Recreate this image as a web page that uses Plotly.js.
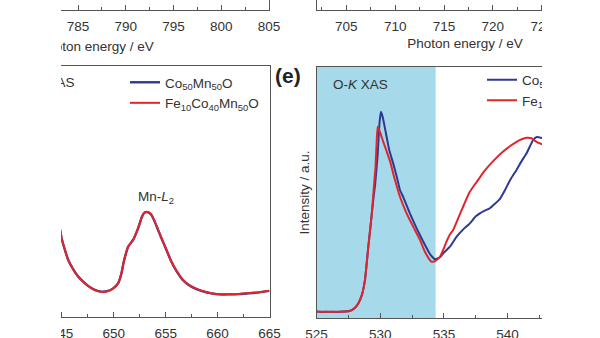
<!DOCTYPE html>
<html>
<head>
<meta charset="utf-8">
<script src="https://cdn.plot.ly/plotly-3.0.1.min.js"></script>
<style>
html,body{margin:0;padding:0;width:600px;height:338px;overflow:hidden;background:#fff;}
#clip{position:absolute;left:61px;top:0;width:481px;height:338px;overflow:hidden;}
#plot{position:absolute;left:-161px;top:-100px;width:800px;height:538px;}
</style>
</head>
<body>
<div id="clip"><div id="plot"></div></div>
<script>
// ---- Mn-L XAS panel (bottom-left) ----
const mnBlueX = [644.6,644.97,645.29,645.61,646.09,646.57,647.05,647.53,648.17,648.82,649.45,649.93,650.41,650.74,650.96,651.22,651.38,651.86,652.34,652.72,652.98,653.30,653.63,653.94,654.26,654.59,655.07,655.55,656.03,656.66,657.47,658.43,659.39,660.2,660.99,662.0,662.91,664.0,665.0];
const mnBlueY = [0.400,0.314,0.267,0.227,0.190,0.161,0.141,0.124,0.108,0.101,0.104,0.114,0.134,0.174,0.220,0.260,0.280,0.307,0.353,0.400,0.416,0.417,0.406,0.380,0.347,0.314,0.267,0.220,0.184,0.147,0.121,0.104,0.094,0.090,0.090,0.091,0.094,0.098,0.104];
const mnRedX = [644.6,644.97,645.29,645.61,646.09,646.57,647.05,647.53,648.17,648.82,649.45,649.93,650.41,650.74,650.96,651.22,651.38,651.86,652.34,652.72,652.98,653.30,653.63,653.94,654.26,654.59,655.07,655.55,656.03,656.66,657.47,658.43,659.39,660.2,660.99,662.0,662.91,664.0,665.0];
const mnRedY = [0.402,0.316,0.268,0.228,0.190,0.160,0.140,0.123,0.107,0.100,0.103,0.113,0.134,0.175,0.221,0.261,0.281,0.308,0.354,0.401,0.417,0.418,0.407,0.381,0.348,0.315,0.268,0.221,0.185,0.148,0.122,0.105,0.095,0.091,0.091,0.092,0.095,0.099,0.105];

// ---- O-K XAS panel (e) ----
const oBlueX = [525.0,525.5,526.0,526.5,527.0,527.6,528.0,528.3,528.55,528.8,529.06,529.33,529.5,529.6,529.8,529.95,530.06,530.2,530.45,530.71,531.02,531.34,531.55,531.8,532.33,532.86,533.38,533.9,534.3,534.69,534.95,535.47,536.0,536.5,537.04,537.5,537.82,538.2,538.6,539.0,539.4,539.8,540.2,540.7,541.1,541.5,542.0,542.3,542.8,543.3];
const oBlueY = [0.026,0.024,0.025,0.024,0.026,0.028,0.040,0.060,0.090,0.150,0.280,0.410,0.490,0.530,0.650,0.780,0.822,0.800,0.736,0.669,0.616,0.555,0.510,0.483,0.417,0.357,0.304,0.255,0.234,0.242,0.258,0.284,0.324,0.352,0.377,0.405,0.417,0.428,0.437,0.455,0.475,0.510,0.550,0.590,0.625,0.657,0.709,0.721,0.716,0.712];
const oRedX = [525.0,525.5,526.0,526.5,527.0,527.6,528.0,528.3,528.55,528.8,529.06,529.33,529.5,529.63,529.72,529.8,529.98,530.24,530.5,530.8,531.05,531.3,531.55,532.07,532.59,533.12,533.51,533.9,534.04,534.3,534.69,534.95,535.2,535.47,535.73,536.1,536.51,537.0,537.3,537.69,538.1,538.47,539.0,539.65,540.2,540.7,541.1,541.49,541.88,542.27,542.8,543.3];
const oRedY = [0.025,0.025,0.024,0.025,0.025,0.028,0.040,0.060,0.090,0.150,0.280,0.410,0.520,0.600,0.700,0.762,0.742,0.702,0.665,0.620,0.570,0.525,0.483,0.417,0.364,0.311,0.264,0.231,0.224,0.227,0.244,0.272,0.304,0.333,0.351,0.395,0.444,0.500,0.523,0.550,0.580,0.603,0.632,0.663,0.685,0.702,0.712,0.718,0.716,0.702,0.690,0.680];

const shadeRange = [525, 534.35];
const seriesNames = ['Co<sub>50</sub>Mn<sub>50</sub>O', 'Fe<sub>10</sub>Co<sub>40</sub>Mn<sub>50</sub>O'];
const blue = '#2c3a92', red = '#e1262b';
const FONT = 'Liberation Sans, Arial, sans-serif';
const TXT = '#333333';
const AX = '#555555';

const traces = [
  {x: mnBlueX, y: mnBlueY, xaxis:'x', yaxis:'y', type:'scatter', mode:'lines', name: seriesNames[0], legend:'legend',
   line:{color: blue, width: 2.4, shape:'spline', smoothing:0.5}},
  {x: mnRedX, y: mnRedY, xaxis:'x', yaxis:'y', type:'scatter', mode:'lines', name: seriesNames[1], legend:'legend',
   line:{color: red, width: 2, shape:'spline', smoothing:0.5}},
  {x: oBlueX, y: oBlueY, xaxis:'x2', yaxis:'y2', type:'scatter', mode:'lines', name: seriesNames[0], legend:'legend2',
   line:{color: blue, width: 2, shape:'spline', smoothing:0.4}},
  {x: oRedX, y: oRedY, xaxis:'x2', yaxis:'y2', type:'scatter', mode:'lines', name: seriesNames[1], legend:'legend2',
   line:{color: red, width: 2, shape:'spline', smoothing:0.4}},
  // upper panels: only their energy axes are visible in this view
  {x: [], y: [], xaxis:'x3', yaxis:'y3', type:'scatter', mode:'lines', showlegend:false},
  {x: [], y: [], xaxis:'x4', yaxis:'y4', type:'scatter', mode:'lines', showlegend:false}
];

function xax(domain, range, anchor, tick0, standoff) {
  return {domain: domain, range: range, anchor: anchor, showline:true, mirror:true, linecolor:AX, linewidth:1,
    ticks:'inside', ticklen:5, tickcolor:AX, tickwidth:1, dtick:5, tick0:tick0, ticklabelstandoff:4,
    minor:{dtick:2.5, ticks:'inside', ticklen:3, tickcolor:AX, tickwidth:1, showgrid:false},
    showgrid:false, zeroline:false, tickfont:{family:FONT, size:13.5, color:TXT},
    title:{text:'Photon energy / eV', standoff: standoff, font:{family:FONT, size:13.5, color:TXT}}};
}
function yax(domain, anchor, titleText) {
  return {domain: domain, range:[0,1], anchor: anchor, showline:true, mirror:true, linecolor:AX, linewidth:1,
    ticks:'', showticklabels:false, showgrid:false, zeroline:false,
    title:{text: titleText, standoff: 2, font:{family:FONT, size:13.5, color:TXT}}};
}

const layout = {
  width: 800, height: 538,
  margin:{l:0, r:0, t:0, b:0},
  paper_bgcolor:'#ffffff', plot_bgcolor:'rgba(0,0,0,0)',
  font:{family:FONT, size:13.5, color:TXT},
  xaxis: xax([0.1375, 0.46188], [640, 665], 'y', 640, 8),
  yaxis: yax([0.22491, 0.69145], 'x', 'Intensity / a.u.'),
  xaxis2: xax([0.52063, 0.91875], [525, 550], 'y2', 525, 8),
  yaxis2: yax([0.22305, 0.68959], 'x2', 'Intensity / a.u.'),
  xaxis3: xax([0.02875, 0.46125], [768.77, 805], 'y3', 770, 8),
  yaxis3: yax([0.79554, 0.98141], 'x3', ''),
  xaxis4: xax([0.52125, 0.89125], [702, 732.3], 'y4', 700, 5),
  yaxis4: yax([0.79554, 0.98141], 'x4', ''),
  legend:{x:0.28125, y:0.68960, xanchor:'left', yanchor:'top', bgcolor:'rgba(0,0,0,0)',
    font:{family:FONT, size:13.5, color:TXT}},
  legend2:{x:0.7275, y:0.69424, xanchor:'left', yanchor:'top', bgcolor:'rgba(0,0,0,0)',
    font:{family:FONT, size:13.5, color:TXT}},
  shapes:[
    {type:'rect', xref:'x2', yref:'y2 domain', x0:shadeRange[0], x1:shadeRange[1], y0:0, y1:1,
     fillcolor:'#a6d9e9', line:{width:0}, layer:'below'}
  ],
  annotations:[
    {text:'<b>(e)</b>', xref:'paper', yref:'paper', x:0.46625, y:0.67472, xanchor:'left', yanchor:'middle',
     showarrow:false, font:{family:FONT, size:21, color:'#222'}},
    {text:'O-<i>K</i> XAS', xref:'paper', yref:'paper', x:0.53875, y:0.65799, xanchor:'left', yanchor:'middle',
     showarrow:false, font:{family:FONT, size:13.5, color:TXT}},
    {text:'Mn-<i>L</i> XAS', xref:'paper', yref:'paper', x:0.22125, y:0.66171, xanchor:'right', yanchor:'middle',
     showarrow:false, font:{family:FONT, size:13.5, color:TXT}},
    {text:'Mn-<i>L</i><sub>2</sub>', xref:'x', yref:'y', x:654.1, y:0.478, xanchor:'center', yanchor:'middle',
     showarrow:false, font:{family:FONT, size:13.5, color:TXT}}
  ]
};

Plotly.newPlot('plot', traces, layout, {staticPlot:true, displayModeBar:false, responsive:false});
</script>
</body>
</html>
